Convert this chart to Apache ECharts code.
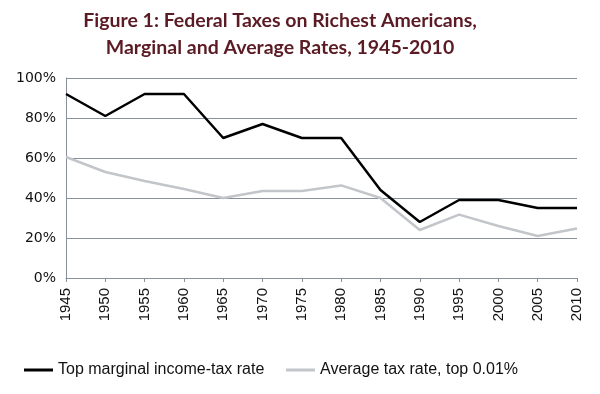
<!DOCTYPE html>
<html><head><meta charset="utf-8">
<script src="https://cdn.jsdelivr.net/npm/echarts@6/dist/echarts.min.js"></script>
<style>html,body{margin:0;padding:0;background:#fff}#c{width:600px;height:394px}</style>
</head><body><div id="c"></div>
<script>
var years = ['1945','1950','1955','1960','1965','1970','1975','1980','1985','1990','1995','2000','2005','2010'];
var topMarginal = [92, 81, 92, 92, 70, 77, 70, 70, 44, 28, 39, 39, 35, 35];
var avgTop001 = [60.5, 53, 48.5, 44.5, 40, 43.5, 43.5, 46.3, 40, 24, 31.7, 26, 21, 24.7];
var yTicks = [0, 20, 40, 60, 80, 100];
var titleText = 'Figure 1: Federal Taxes on Richest Americans,\nMarginal and Average Rates, 1945-2010';
var seriesNames = ['Top marginal income-tax rate', 'Average tax rate, top 0.01%'];

var chart = echarts.init(document.getElementById('c'));
var legendText = {fontFamily: 'Liberation Sans, sans-serif', fontSize: 16, color: '#111'};
chart.setOption({
  animation: false,
  title: {
    text: titleText,
    left: 275, top: 2, textAlign: 'center',
    textStyle: {fontFamily: 'Lato, sans-serif', fontWeight: 'bold', fontSize: 19.5, lineHeight: 27, color: '#5b1b24'}
  },
  legend: [
    {data: [seriesNames[0]], left: 19, top: 357, itemWidth: 29, itemHeight: 3, itemGap: 0, icon: 'rect', textStyle: legendText},
    {data: [seriesNames[1]], left: 281, top: 357, itemWidth: 29, itemHeight: 3, itemGap: 0, icon: 'rect', textStyle: legendText}
  ],
  grid: {left: 66, right: 23, top: 78, bottom: 116, containLabel: false},
  xAxis: {
    type: 'category', data: years, boundaryGap: false,
    axisLine: {lineStyle: {color: '#8a909b', width: 1}},
    axisTick: {show: true, length: 4, lineStyle: {color: '#8a909b'}},
    axisLabel: {rotate: 90, margin: 10, fontFamily: 'Liberation Sans, sans-serif', fontSize: 15, color: '#111'}
  },
  yAxis: {
    type: 'value', min: 0, max: 100, interval: 20,
    axisLine: {show: true, lineStyle: {color: '#8a909b'}},
    axisTick: {show: false},
    splitLine: {lineStyle: {color: '#8a909b', width: 1}},
    axisLabel: {formatter: function(v){ return yTicks.indexOf(v) >= 0 ? v + '%' : ''; }, margin: 10, fontFamily: 'DejaVu Sans, sans-serif', fontSize: 14, color: '#111'}
  },
  series: [
    {name: seriesNames[0], type: 'line', data: topMarginal, symbol: 'none', lineStyle: {color: '#000', width: 2.5}, itemStyle: {color: '#000'}, z: 3},
    {name: seriesNames[1], type: 'line', data: avgTop001, symbol: 'none', lineStyle: {color: '#c2c5ca', width: 2.5}, itemStyle: {color: '#c2c5ca'}, z: 2}
  ]
});
</script></body></html>
